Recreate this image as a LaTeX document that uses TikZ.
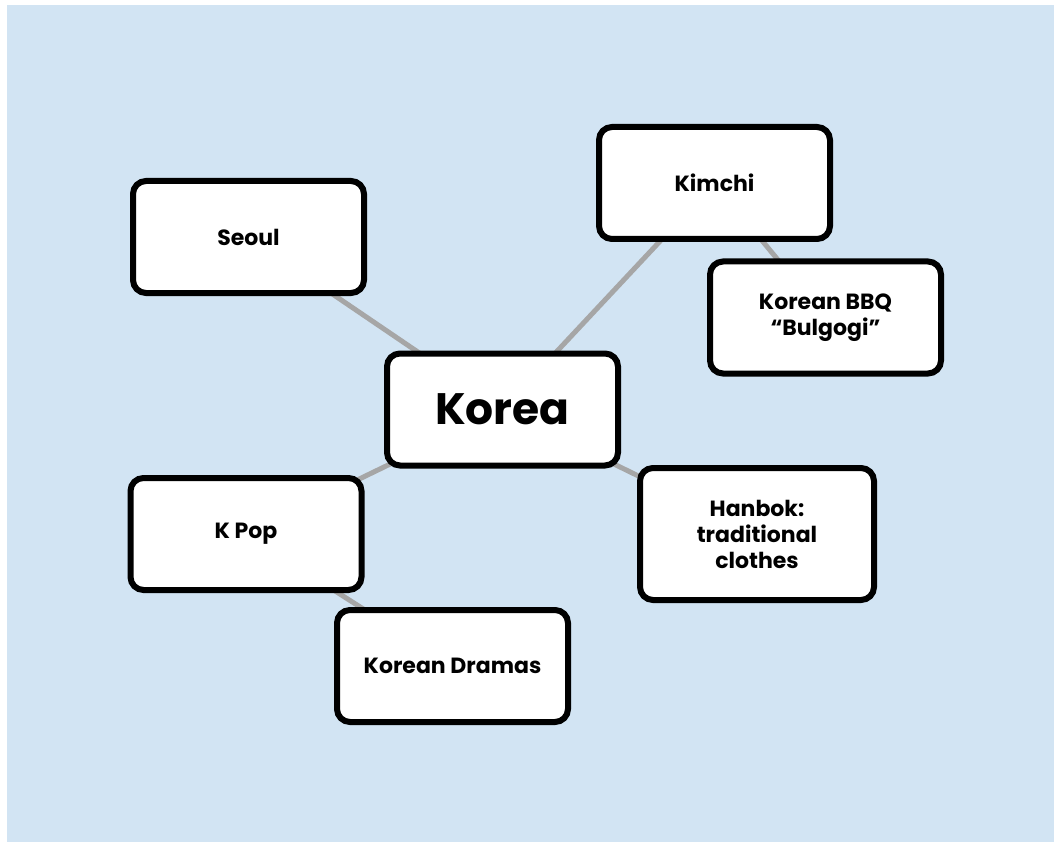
\documentclass[tikz,border=0pt]{standalone}
\usepackage{fontspec}
\setmainfont{Poppins}
\usetikzlibrary{backgrounds}
\definecolor{skyback}{RGB}{210,228,243}
\definecolor{linkgray}{RGB}{166,166,166}
\tikzset{
	topic/.style={draw=black,line width=6pt,rounded corners=13pt,fill=white,align=center,inner sep=0pt,
		font=\bfseries\fontsize{22}{26}\selectfont,minimum width=231pt,minimum height=112pt},
	link/.style={draw=linkgray,line width=5pt}
}
\begin{document}
\begin{tikzpicture}[x=10pt,y=-10pt]
			\useasboundingbox (0,0) rectangle (105.4,84.2);
			%CENTRE
			\node[topic,font=\bfseries\fontsize{44}{50}\selectfont] (korea) at (50.25,40.95) {Korea};
			%TOPICS
			\node[topic] (seoul) at (24.85,23.7) {Seoul};
			\node[topic] (kimchi) at (71.45,18.3) {Kimchi};
			\node[topic] (bbq) at (82.55,31.75) {Korean BBQ\\``Bulgogi''};
			\node[topic] (kpop) at (24.6,53.4) {K Pop};
			\node[topic] (dramas) at (45.25,66.6) {Korean Dramas};
			\node[topic,minimum width=234pt,minimum height=132pt] (hanbok) at (75.7,53.4) {Hanbok:\\traditional\\clothes};
			\begin{pgfonlayer}{background}
				\fill[skyback] (0.7,0.5) rectangle (105.4,84.2);
				\draw[link] (korea.center) -- (seoul.center);
				\draw[link] (korea.center) -- (kimchi.center);
				\draw[link] (kimchi.center) -- (bbq.center);
				\draw[link] (korea.center) -- (kpop.center);
				\draw[link] (kpop.center) -- (dramas.center);
				\draw[link] (korea.center) -- (hanbok.center);
			\end{pgfonlayer}
		\end{tikzpicture}
\end{document}
